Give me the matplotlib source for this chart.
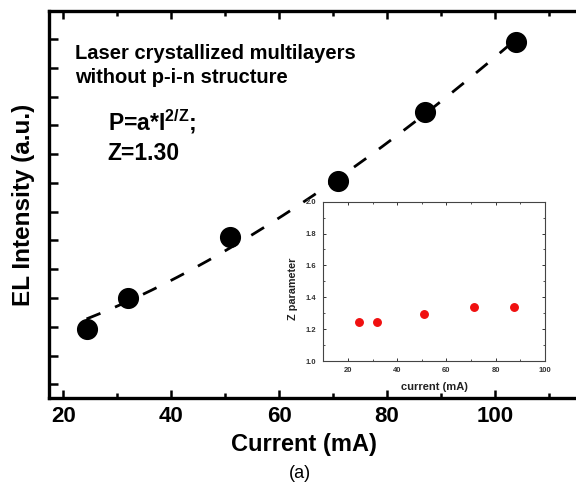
import numpy as np
import matplotlib
matplotlib.use("Agg")
from matplotlib import pyplot as plt
from matplotlib.ticker import MultipleLocator, NullFormatter, FormatStrFormatter

plt.rcParams['font.family'] = ['Liberation Sans', 'DejaVu Sans']
plt.rcParams['font.weight'] = 'bold'
plt.rcParams['mathtext.fontset'] = 'custom'
plt.rcParams['mathtext.rm'] = 'Liberation Sans:bold'
plt.rcParams['mathtext.bf'] = 'Liberation Sans:bold'
plt.rcParams['mathtext.it'] = 'Liberation Sans:bold'

# EL intensity vs drive current (arbitrary units)
current = [24.3, 32.0, 50.9, 71.0, 87.0, 104.0]
el_intensity = [1.92, 2.99, 5.13, 7.07, 9.45, 11.90]

# fitted exponent for each current step
z_current = [24.3, 32.0, 51.0, 71.3, 87.3]
z_param = [1.243, 1.247, 1.294, 1.337, 1.342]

Z_FIT = 1.30

W, H = 576, 487
fig = plt.figure(figsize=(W / 100, H / 100), dpi=100)


def fx(px):
    return px / W


def fy(py):
    return 1 - py / H


# main axes, right side runs off the page
ax = fig.add_axes([fx(49.3), fy(398), fx(592) - fx(49.3), fy(11) - fy(398)])
ax.set_xlim(17.4, 118)
ax.set_ylim(-0.47, 12.97)

# power-law fit P = c + a*I^(2/Z)
xs = np.array(current)
ys = np.array(el_intensity)
a, c = np.polyfit(xs ** (2 / Z_FIT), ys, 1)
fit_x = np.linspace(xs[0], xs[-1], 200)
fit_y = c + a * fit_x ** (2 / Z_FIT)
ax.plot(fit_x, fit_y, color='black', lw=2, dashes=(5.4, 5.7), zorder=2)
ax.plot(current, el_intensity, 'o', color='black', ms=14.2, zorder=3)

for side in ['left', 'bottom', 'top']:
    ax.spines[side].set_linewidth(2.4)
ax.spines['right'].set_visible(False)

ax.xaxis.set_major_locator(MultipleLocator(20))
ax.xaxis.set_minor_locator(MultipleLocator(10))
ax.set_yticks(range(13))
ax.yaxis.set_major_formatter(NullFormatter())
ax.tick_params(axis='x', which='major', direction='in', length=6, width=1.8,
               top=True, labelsize=16, pad=5.5)
ax.tick_params(axis='x', which='minor', direction='in', length=3.3, width=1.8,
               top=True)
ax.tick_params(axis='y', which='major', direction='in', length=6.3, width=1.8,
               right=False)
for lab in ax.get_xticklabels():
    lab.set_fontweight('bold')

fig.text(fx(24), fy(205), 'EL Intensity (a.u.)', rotation=90, fontsize=17.5,
         fontweight='bold', ha='center', va='center')
fig.text(fx(303.7), fy(451), 'Current (mA)', fontsize=17, fontweight='bold',
         ha='center', va='baseline')
fig.text(fx(300), fy(478), '(a)', fontsize=13, fontweight='normal',
         ha='center', va='baseline')

fig.text(fx(75), fy(59.3), 'Laser crystallized multilayers', fontsize=14.5,
         fontweight='bold', va='baseline')
fig.text(fx(75), fy(83.3), 'without p-i-n structure', fontsize=14.5,
         fontweight='bold', va='baseline')
fig.text(fx(107.7), fy(130), r'P=a*I$^{\mathbf{2/Z}}$;', fontsize=16.5,
         fontweight='bold', va='baseline')
fig.text(fx(107.7), fy(160), 'Z=%.2f' % Z_FIT, fontsize=16.5,
         fontweight='bold', va='baseline')

# inset: Z parameter
ins = fig.add_axes([fx(323.3), fy(361), fx(545) - fx(323.3), fy(201.7) - fy(361)])
ins.set_facecolor('white')
ins.set_zorder(5)
ins.plot(z_current, z_param, 'o', color='#f01010', ms=5.4)
ins.set_xlim(10, 100)
ins.set_ylim(1.0, 2.0)
ins.xaxis.set_major_locator(MultipleLocator(20))
ins.xaxis.set_minor_locator(MultipleLocator(10))
ins.yaxis.set_major_locator(MultipleLocator(0.2))
ins.yaxis.set_minor_locator(MultipleLocator(0.1))
for sp in ins.spines.values():
    sp.set_linewidth(0.8)
    sp.set_color('#444444')
ins.tick_params(which='major', direction='in', length=2.4, width=0.7,
                top=True, right=True, labelsize=5.5, colors='#333333')
ins.tick_params(which='minor', direction='in', length=1.4, width=0.6,
                top=True, right=True, colors='#333333')
ins.tick_params(axis='x', pad=4)
ins.tick_params(axis='y', pad=5)
ins.yaxis.set_major_formatter(FormatStrFormatter('%.1f'))
for lab in ins.get_xticklabels() + ins.get_yticklabels():
    lab.set_fontweight('bold')

fig.text(fx(293), fy(289), 'Z parameter', rotation=90, fontsize=7.8,
         fontweight='bold', ha='center', va='center', color='#222222')
fig.text(fx(434), fy(390), 'current (mA)', fontsize=8, fontweight='bold',
         ha='center', va='baseline', color='#222222')

fig.savefig('out.png', dpi=100)
